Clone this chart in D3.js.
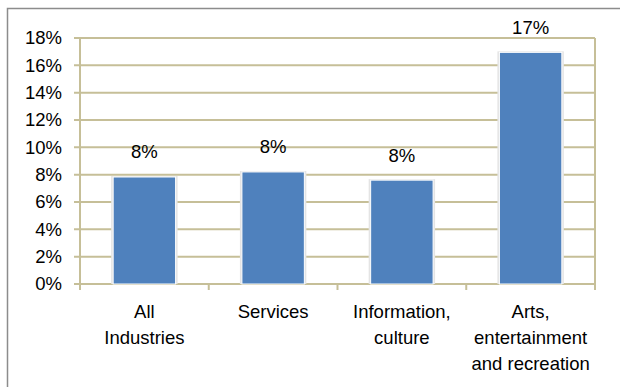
<!DOCTYPE html>
<html lang="en">
<head>
<meta charset="utf-8">
<title>bar chart</title>
<script src="https://d3js.org/d3.v7.min.js"></script>
<style>
  body{margin:0;background:#fff;font-family:"Liberation Sans",Arial,sans-serif;}
</style>
</head>
<body>
<div id="chart"></div>
<script>
// data
var categories = [["All", "Industries"], ["Services"], ["Information,", "culture"], ["Arts,", "entertainment", "and recreation"]]
var values = [7.83, 8.2, 7.6, 16.95]
var valueLabels = ["8%", "8%", "8%", "17%"]
var yTicks = [0, 2, 4, 6, 8, 10, 12, 14, 16, 18]

var W = 620, H = 387
var mLeft = 80, mRight = 595, mTop = 38, mBottom = 284
var grid = "#c6bf98"
var fs = 18.5

var svg = d3.select("#chart").append("svg").attr("width", W).attr("height", H)

// outer frame (cut off at right and bottom)
svg.append("rect").attr("x", 7.5).attr("y", 8.5).attr("width", 700).attr("height", 500)
  .attr("fill", "#fff").attr("stroke", "#8c8c8c").attr("stroke-width", 1.5)

var x = d3.scaleBand().domain(d3.range(values.length)).range([mLeft, mRight]).paddingInner(0.515).paddingOuter(0.2575)
var xOuter = d3.scaleBand().domain(d3.range(values.length)).range([mLeft, mRight])
var y = d3.scaleLinear().domain([0, 18]).range([mBottom, mTop])

// gridlines
svg.append("g").selectAll("line").data(yTicks).enter().append("line")
  .attr("x1", mLeft - 6).attr("x2", mRight)
  .attr("y1", function(d){ return y(d) }).attr("y2", function(d){ return y(d) })
  .attr("stroke", grid).attr("stroke-width", 2)

// right border of plot
svg.append("line").attr("x1", mRight).attr("x2", mRight).attr("y1", mTop).attr("y2", mBottom + 6)
  .attr("stroke", grid).attr("stroke-width", 2)

// y axis line
svg.append("line").attr("x1", mLeft).attr("x2", mLeft).attr("y1", mTop).attr("y2", mBottom + 6)
  .attr("stroke", grid).attr("stroke-width", 2)

// x tick marks
svg.append("g").selectAll("line").data(d3.range(values.length + 1)).enter().append("line")
  .attr("x1", function(i){ return i < values.length ? xOuter(i) : mRight })
  .attr("x2", function(i){ return i < values.length ? xOuter(i) : mRight })
  .attr("y1", mBottom).attr("y2", mBottom + 6)
  .attr("stroke", grid).attr("stroke-width", 2)

// y tick labels
svg.append("g").selectAll("text").data(yTicks).enter().append("text")
  .attr("x", 62).attr("y", function(d){ return y(d) })
  .attr("dy", "0.35em").attr("text-anchor", "end")
  .attr("font-size", fs).attr("fill", "#000")
  .text(function(d){ return d + "%" })

// bar shadows
svg.append("g").selectAll("rect").data(values).enter().append("rect")
  .attr("x", function(d, i){ return x(i) - 2 })
  .attr("y", function(d){ return y(d) - 1 })
  .attr("width", x.bandwidth() + 4)
  .attr("height", function(d){ return mBottom - y(d) + 1 })
  .attr("fill", "#e4e4e4")

// bars
svg.append("g").selectAll("rect").data(values).enter().append("rect")
  .attr("x", function(d, i){ return x(i) })
  .attr("y", function(d){ return y(d) })
  .attr("width", x.bandwidth())
  .attr("height", function(d){ return mBottom - y(d) })
  .attr("fill", "#4f81bd")
  .attr("stroke", "#fff").attr("stroke-width", 1)

// value labels
svg.append("g").selectAll("text").data(values).enter().append("text")
  .attr("x", function(d, i){ return x(i) + x.bandwidth() / 2 })
  .attr("y", function(d){ return y(d) - 25 })
  .attr("dy", "0.35em").attr("text-anchor", "middle")
  .attr("font-size", fs).attr("fill", "#000")
  .text(function(d, i){ return valueLabels[i] })

// category labels
var cat = svg.append("g").selectAll("text").data(categories).enter().append("text")
  .attr("text-anchor", "middle").attr("font-size", fs).attr("fill", "#000")
cat.each(function(lines, i){
  var t = d3.select(this)
  lines.forEach(function(l, j){
    t.append("tspan").attr("x", x(i) + x.bandwidth() / 2).attr("y", 318 + j * 26).text(l)
  })
})
</script>
</body>
</html>
